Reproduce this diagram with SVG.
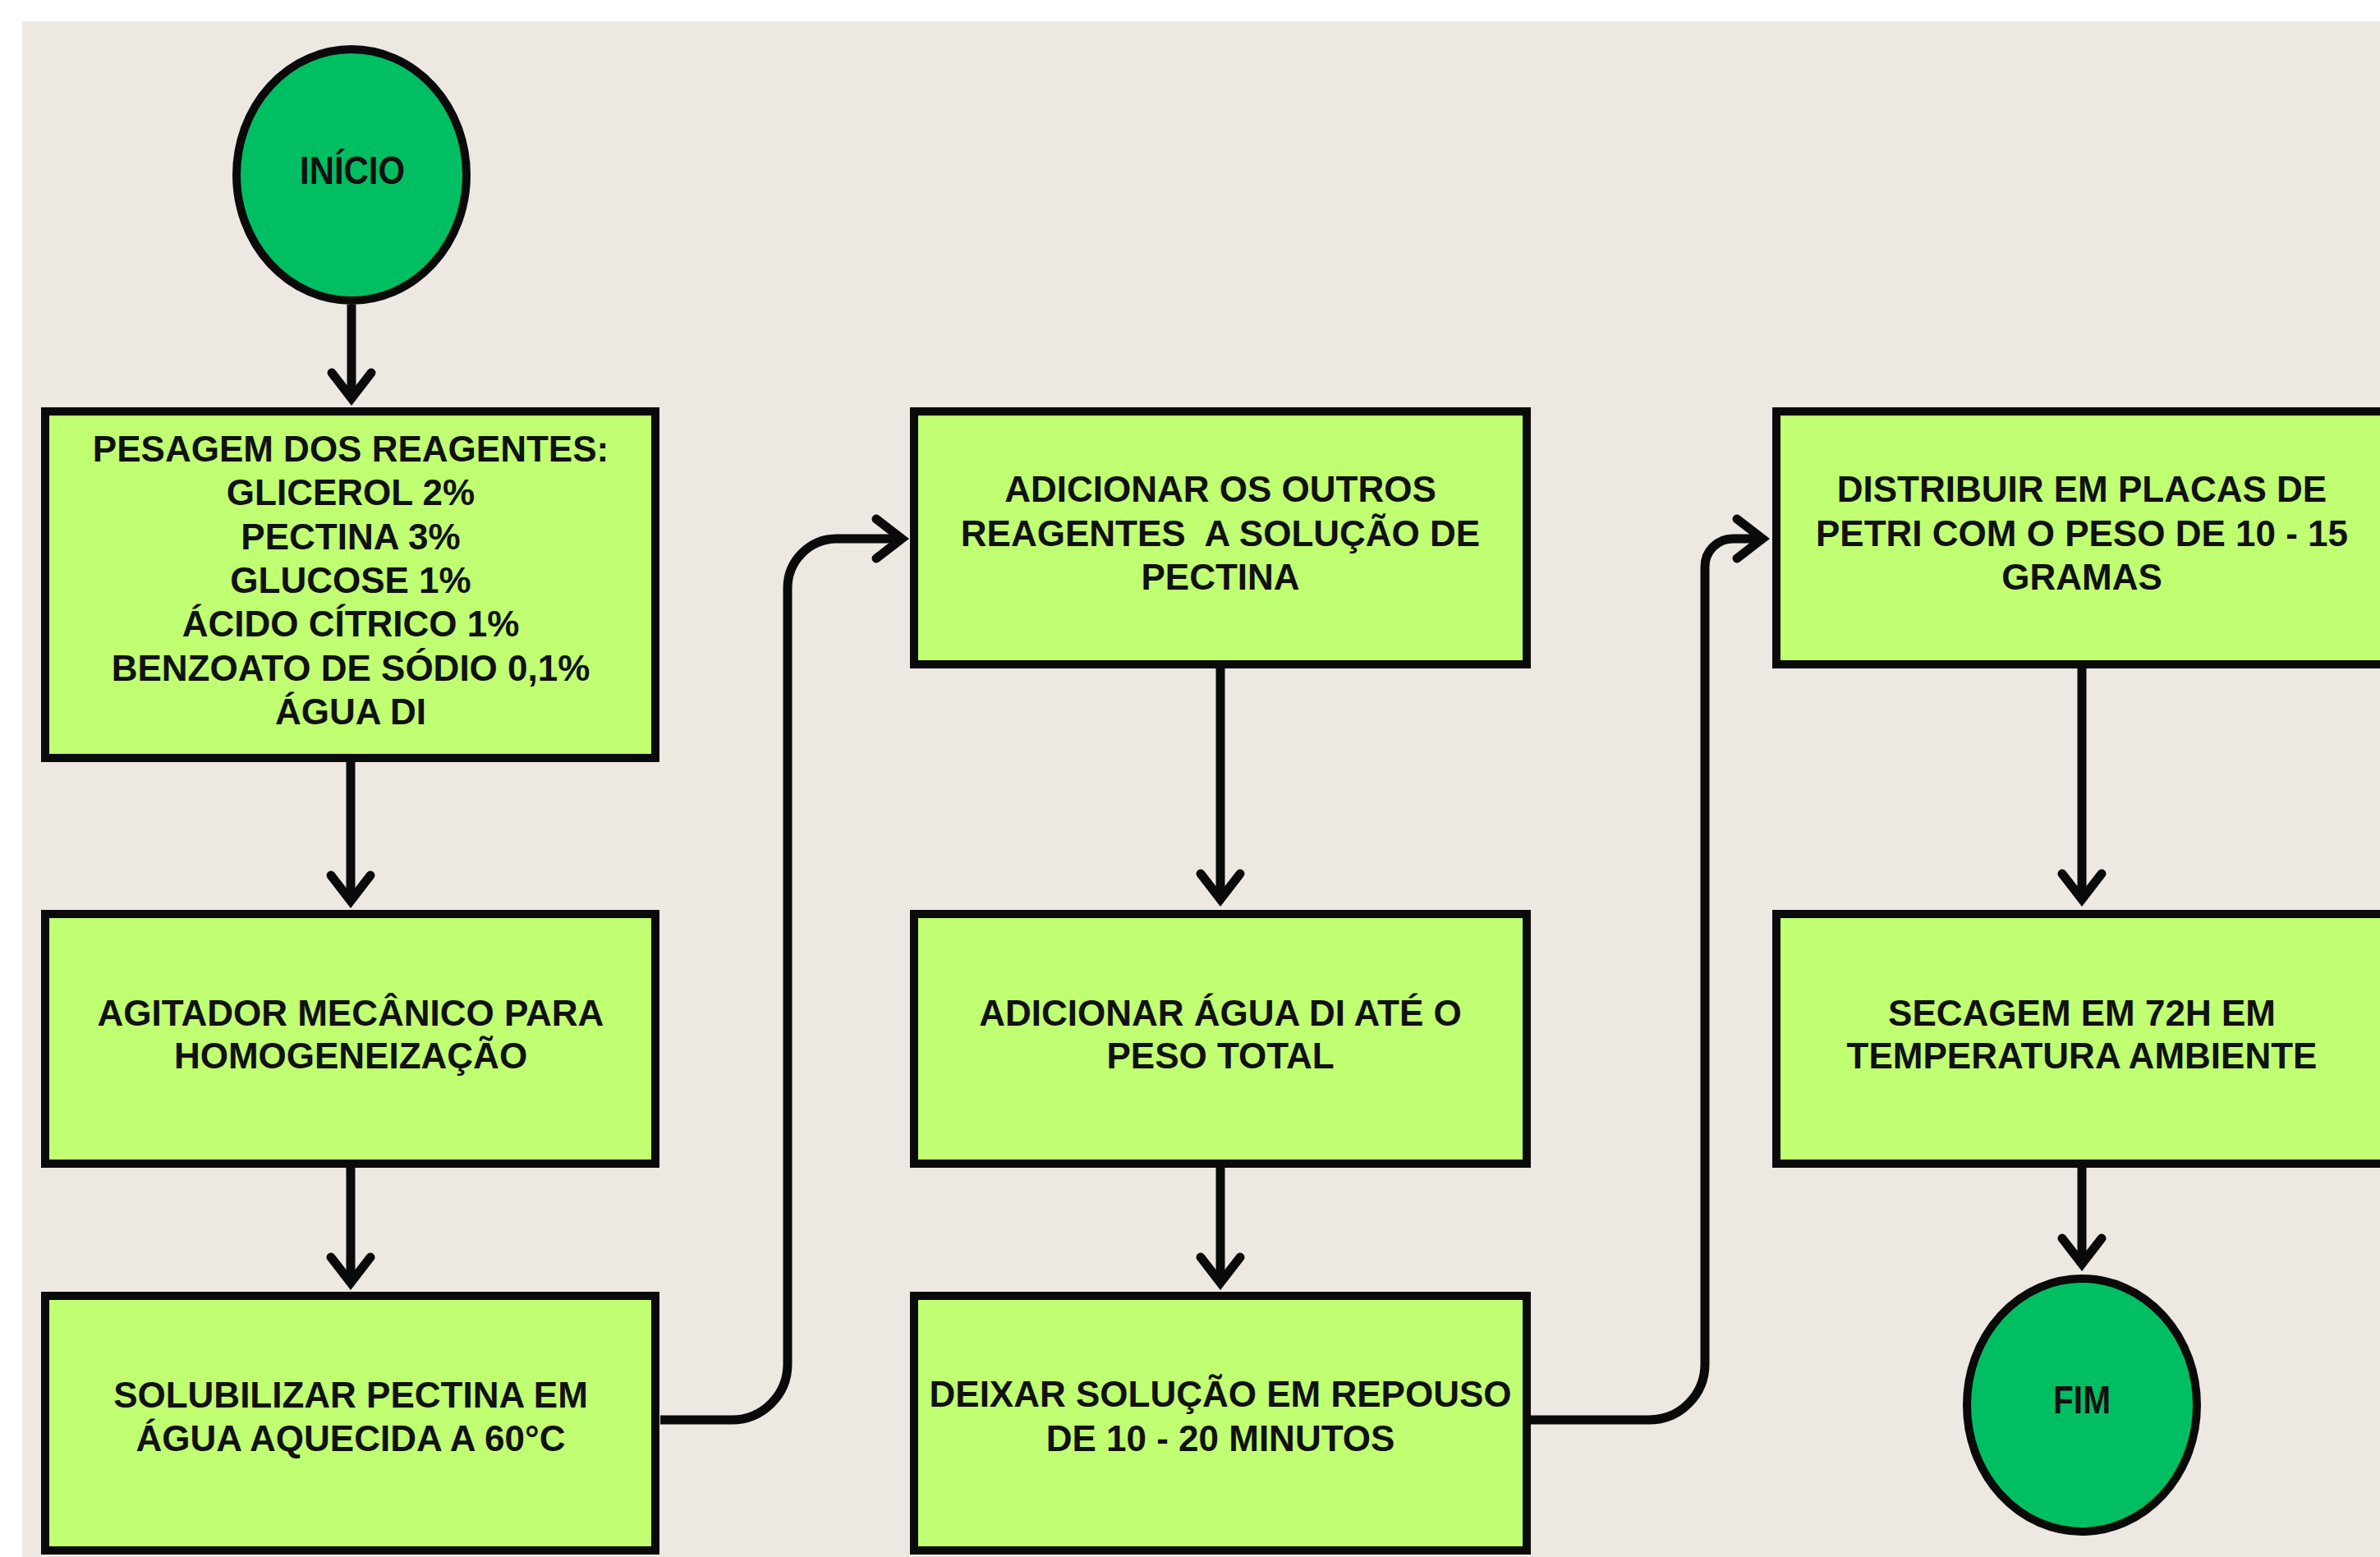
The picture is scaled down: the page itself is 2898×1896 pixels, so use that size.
<svg xmlns="http://www.w3.org/2000/svg" width="2898" height="1896" viewBox="0 0 2898 1896">
<style>
.box{fill:#c1ff72;stroke:#0a0a0a;stroke-width:10}
.term{fill:#00bf63;stroke:#0a0a0a;stroke-width:10}
.t{font-family:"Liberation Sans",Arial,sans-serif;font-weight:bold;font-size:44px;fill:#111;text-anchor:middle}
.tt{font-family:"Liberation Sans",Arial,sans-serif;font-weight:bold;font-size:48px;fill:#111;text-anchor:middle}
.c{fill:none;stroke:#0a0a0a;stroke-width:11}
</style>
<defs>
<marker id="ah" markerUnits="userSpaceOnUse" markerWidth="80" markerHeight="80" refX="0" refY="0" orient="auto" overflow="visible">
<path d="M -30 -24 L 1 0 L -30 24" fill="none" stroke="#0a0a0a" stroke-width="11" stroke-linecap="round" stroke-linejoin="miter"/>
</marker>
</defs>
<rect x="0" y="0" width="2898" height="1896" fill="#ffffff"/>
<rect x="27" y="26" width="2871" height="1870" fill="#eee8e2"/>

<g id="connectors">
<path class="c" d="M 428 371 V 484" marker-end="url(#ah)"/>
<path class="c" d="M 427 928 V 1096" marker-end="url(#ah)"/>
<path class="c" d="M 427 1422 V 1561" marker-end="url(#ah)"/>
<path class="c" d="M 804 1729 H 891 A 68 68 0 0 0 959 1661 V 716 A 60 60 0 0 1 1019 656 H 1097" marker-end="url(#ah)"/>
<path class="c" d="M 1486 814 V 1094" marker-end="url(#ah)"/>
<path class="c" d="M 1486 1422 V 1561" marker-end="url(#ah)"/>
<path class="c" d="M 1864 1729 H 2008 A 68 68 0 0 0 2076 1661 V 690 A 34 34 0 0 1 2110 656 H 2145" marker-end="url(#ah)"/>
<path class="c" d="M 2535 814 V 1094" marker-end="url(#ah)"/>
<path class="c" d="M 2535 1422 V 1538" marker-end="url(#ah)"/>
</g>

<g id="inicio">
<ellipse class="term" cx="428" cy="213" rx="140" ry="153"/>
<text class="tt" x="429" y="224" textLength="128" lengthAdjust="spacingAndGlyphs">INÍCIO</text>
</g>

<g id="pesagem">
<rect class="box" x="55" y="501" width="743" height="422"/>
<text class="t" x="427" y="562">PESAGEM DOS REAGENTES:</text>
<text class="t" x="427" y="615">GLICEROL 2%</text>
<text class="t" x="427" y="669">PECTINA 3%</text>
<text class="t" x="427" y="722">GLUCOSE 1%</text>
<text class="t" x="427" y="775">ÁCIDO CÍTRICO 1%</text>
<text class="t" x="427" y="829">BENZOATO DE SÓDIO 0,1%</text>
<text class="t" x="427" y="882">ÁGUA DI</text>
</g>

<g id="agitador">
<rect class="box" x="55" y="1113" width="743" height="304"/>
<text class="t" x="427" y="1249">AGITADOR MECÂNICO PARA</text>
<text class="t" x="427" y="1301">HOMOGENEIZAÇÃO</text>
</g>

<g id="solubilizar">
<rect class="box" x="55" y="1578" width="743" height="310"/>
<text class="t" x="427" y="1714">SOLUBILIZAR PECTINA EM</text>
<text class="t" x="427" y="1767">ÁGUA AQUECIDA A 60°C</text>
</g>

<g id="adicionar-reagentes">
<rect class="box" x="1113" y="501" width="746" height="308"/>
<text class="t" x="1486" y="611">ADICIONAR OS OUTROS</text>
<text class="t" x="1486" y="665" xml:space="preserve">REAGENTES  A SOLUÇÃO DE</text>
<text class="t" x="1486" y="718">PECTINA</text>
</g>

<g id="adicionar-agua">
<rect class="box" x="1113" y="1113" width="746" height="304"/>
<text class="t" x="1486" y="1249">ADICIONAR ÁGUA DI ATÉ O</text>
<text class="t" x="1486" y="1301">PESO TOTAL</text>
</g>

<g id="repouso">
<rect class="box" x="1113" y="1578" width="746" height="310"/>
<text class="t" x="1486" y="1713">DEIXAR SOLUÇÃO EM REPOUSO</text>
<text class="t" x="1486" y="1767">DE 10 - 20 MINUTOS</text>
</g>

<g id="distribuir">
<rect class="box" x="2163" y="501" width="746" height="308"/>
<text class="t" x="2535" y="611">DISTRIBUIR EM PLACAS DE</text>
<text class="t" x="2535" y="665">PETRI COM O PESO DE 10 - 15</text>
<text class="t" x="2535" y="718">GRAMAS</text>
</g>

<g id="secagem">
<rect class="box" x="2163" y="1113" width="746" height="304"/>
<text class="t" x="2535" y="1249">SECAGEM EM 72H EM</text>
<text class="t" x="2535" y="1301">TEMPERATURA AMBIENTE</text>
</g>

<g id="fim">
<ellipse class="term" cx="2535" cy="1711" rx="140" ry="154"/>
<text class="tt" x="2535" y="1721" font-size="47" textLength="70" lengthAdjust="spacingAndGlyphs">FIM</text>
</g>
</svg>
